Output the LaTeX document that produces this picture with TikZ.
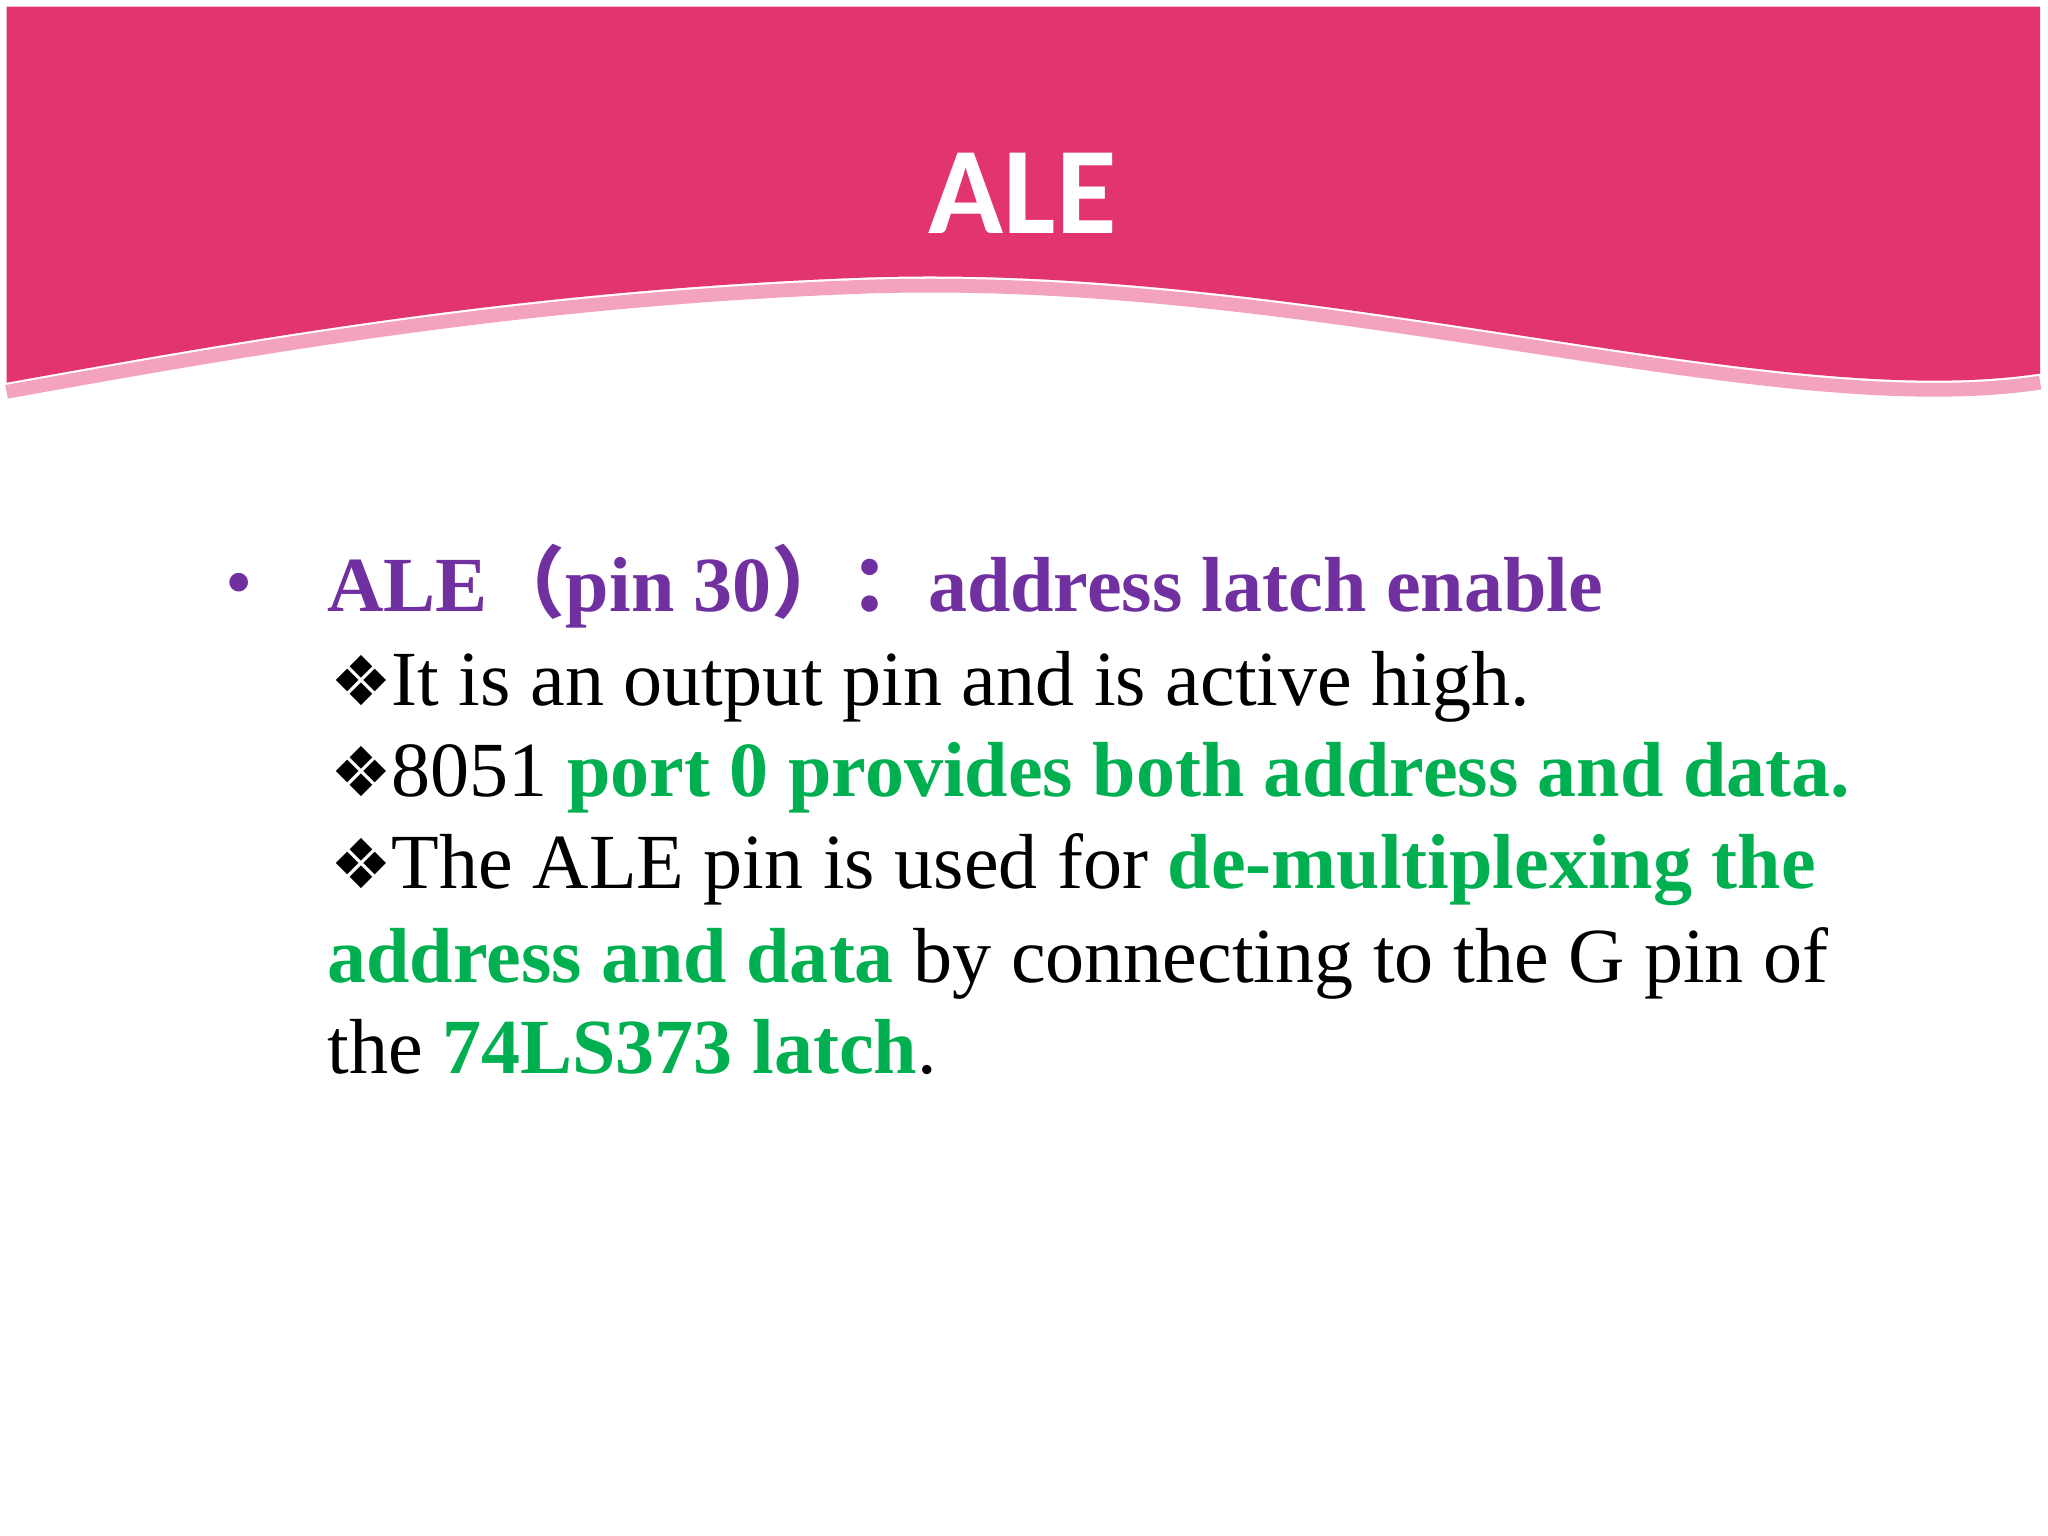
\documentclass[tikz,border=0pt]{standalone}
\usepackage{fontspec}
\setmainfont{Liberation Serif}
\newfontfamily\titlefont{Carlito}
\newfontfamily\symfont{DejaVu Sans}
\newfontfamily\cjk{Noto Sans CJK SC}
\definecolor{pinkband}{HTML}{E23570}
\definecolor{pinkedge}{HTML}{F3A3C0}
\definecolor{purp}{HTML}{7030A0}
\definecolor{grn}{HTML}{00B050}
\begin{document}
\begin{tikzpicture}[line/.style={anchor=base west,inner sep=0pt,font=\fontsize{17}{20}\selectfont}]
\useasboundingbox (0,0) rectangle (15.68,-11.76);
\fill[white] (0,0) rectangle (15.68,-11.76);
\draw[pinkedge,line width=3pt] (15.62,-2.93) .. controls (13.5,-3.25) and (10,-2.05) .. (6.5,-2.2) .. controls (4,-2.3) and (2,-2.65) .. (0.05,-3.0);
\fill[pinkband] (0.05,-0.05) -- (15.62,-0.05) -- (15.62,-2.86) .. controls (13.5,-3.18) and (10,-1.98) .. (6.5,-2.13) .. controls (4,-2.23) and (2,-2.58) .. (0.05,-2.93) -- cycle;
\node[text=white,font=\titlefont\bfseries\fontsize{27}{30}\selectfont] (title) at (7.83,-1.48) {ALE};
\node[line,text=purp] (bul) at (1.72,-4.66) {•};
\node[line,text=purp] (l1) at (2.5,-4.68) {\bfseries ALE{\cjk（}pin 30{\cjk）：}address latch enable};
\node[line] (l2) at (2.52,-5.4) {{\symfont\fontsize{15}{18}\selectfont ❖}It is an output pin and is active high.};
\node[line] (l3) at (2.52,-6.1) {{\symfont\fontsize{15}{18}\selectfont ❖}8051 \textcolor{grn}{\bfseries port 0 provides both address and data.}};
\node[line] (l4) at (2.52,-6.8) {{\symfont\fontsize{15}{18}\selectfont ❖}The ALE pin is used for \textcolor{grn}{\bfseries de-multiplexing the}};
\node[line] (l5) at (2.5,-7.52) {\textcolor{grn}{\bfseries address and data} by connecting to the G pin of};
\node[line] (l6) at (2.5,-8.22) {the \textcolor{grn}{\bfseries 74LS373 latch}.};
\end{tikzpicture}
\end{document}
